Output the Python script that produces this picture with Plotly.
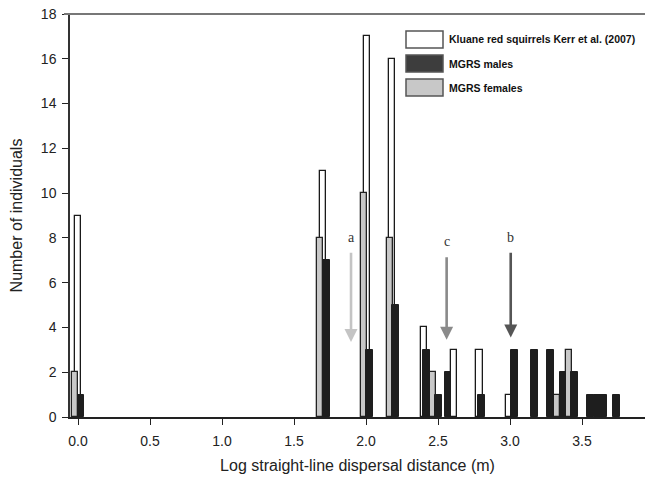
import plotly.graph_objects as go

# ---- data ----
kluane_x = [0.0, 1.703, 2.005, 2.183, 2.406, 2.610, 2.788, 2.995]
kluane_y = [9, 11, 17, 16, 4, 3, 3, 1]

females_x = [-0.023, 1.683, 1.984, 2.164, 2.464, 3.326, 3.408]
females_y = [2, 8, 10, 8, 2, 1, 3]

males_x = [0.022, 1.724, 2.026, 2.206, 2.421, 2.505, 2.569, 2.803, 3.030,
           3.171, 3.282, 3.368, 3.448, 3.561, 3.606, 3.651, 3.738]
males_y = [1, 7, 3, 5, 3, 1, 2, 1, 3, 3, 3, 2, 2, 1, 1, 1, 1]

arrow_labels = ["a", "c", "b"]
arrow_x = [1.896, 2.560, 3.005]
arrow_top = [7.4, 7.2, 7.4]
arrow_tip = [3.35, 3.45, 3.55]
arrow_colors = ["#c4c4c4", "#8a8a8a", "#555555"]

legend_names = ["Kluane red squirrels Kerr et al. (2007)", "MGRS males", "MGRS females"]
legend_fills = ["#ffffff", "#3d3d3d", "#c8c8c8"]

x_ticks = [0.0, 0.5, 1.0, 1.5, 2.0, 2.5, 3.0, 3.5]
y_ticks = list(range(0, 19, 2))

# ---- figure ----
W, H = 645, 477
ML, MR, MT, MB = 70, 0, 14, 60
BW = 0.042

fig = go.Figure()
fig.add_trace(go.Bar(x=kluane_x, y=kluane_y, width=BW, name=legend_names[0],
                     marker=dict(color="#ffffff", line=dict(color="#1a1a1a", width=1.3))))
fig.add_trace(go.Bar(x=females_x, y=females_y, width=BW, name=legend_names[2],
                     marker=dict(color="#c8c8c8", line=dict(color="#222222", width=1.3))))
fig.add_trace(go.Bar(x=males_x, y=males_y, width=BW + 0.004, name=legend_names[1],
                     marker=dict(color="#1e1e1e", line=dict(color="#1e1e1e", width=1.0))))

fnt = "Liberation Sans, Arial, sans-serif"

pw = W - ML - MR
ph = H - MT - MB


def px2paper_x(px):
    return (px - ML) / pw


def px2paper_y(py):
    return (H - MB - py) / ph


shapes = []
annotations = []

# top frame line
shapes.append(dict(type="line", xref="paper", yref="paper",
                   x0=px2paper_x(64), x1=1.0, y0=1.0, y1=1.0,
                   line=dict(color="#777777", width=2)))

# legend (manual)
sw_tops = [31, 55, 79]
for name, fill, top in zip(legend_names, legend_fills, sw_tops):
    shapes.append(dict(type="rect", xref="paper", yref="paper",
                       x0=px2paper_x(406), x1=px2paper_x(443),
                       y0=px2paper_y(top + 17), y1=px2paper_y(top),
                       fillcolor=fill, line=dict(color="#555555", width=1.5)))
    annotations.append(dict(xref="paper", yref="paper", x=px2paper_x(447),
                            y=px2paper_y(top + 8.5), text="<b>" + name + "</b>",
                            showarrow=False, xanchor="left", yanchor="middle",
                            font=dict(family=fnt, size=10.5, color="#111111")))

# arrows with letters
for lab, ax, at, tip, col in zip(arrow_labels, arrow_x, arrow_top, arrow_tip, arrow_colors):
    annotations.append(dict(x=ax, y=tip, ax=ax, ay=at, xref="x", yref="y",
                            axref="x", ayref="y", text="", showarrow=True,
                            arrowhead=2, arrowsize=1.0, arrowwidth=2.6,
                            arrowcolor=col))
    annotations.append(dict(x=ax, y=at + 0.2, xref="x", yref="y", text=lab,
                            showarrow=False, yanchor="bottom",
                            font=dict(family="Liberation Serif, Times New Roman, serif",
                                      size=14, color="#333333")))

fig.update_layout(
    width=W, height=H,
    margin=dict(l=ML, r=MR, t=MT, b=MB, autoexpand=False),
    paper_bgcolor="white", plot_bgcolor="white",
    barmode="overlay", bargap=0,
    showlegend=False,
    shapes=shapes, annotations=annotations,
    font=dict(family=fnt, color="#222222"),
)
fig.update_xaxes(range=[-0.0556, 3.9375], tickvals=x_ticks, tickformat=".1f",
                 ticks="outside", ticklen=6, tickwidth=1.2, tickcolor="#222222",
                 showline=True, linecolor="#222222", linewidth=1.5,
                 showgrid=False, zeroline=False, automargin=False,
                 ticklabelstandoff=4,
                 tickfont=dict(family=fnt, size=14, color="#222222"),
                 title=dict(text="Log straight-line dispersal distance (m)",
                            font=dict(family=fnt, size=16, color="#222222"), standoff=12))
fig.update_yaxes(range=[0, 18], tickvals=y_ticks,
                 ticks="outside", ticklen=6, tickwidth=1.2, tickcolor="#222222",
                 showline=True, linecolor="#333333", linewidth=1.5,
                 showgrid=False, zeroline=False, automargin=False,
                 ticklabelstandoff=3,
                 tickfont=dict(family=fnt, size=14, color="#222222"),
                 title=dict(text="Number of individuals",
                            font=dict(family=fnt, size=16, color="#222222"), standoff=14))

fig.write_html("out.html", config={"displayModeBar": False},
               post_script="document.body.style.margin='0';document.body.style.overflow='hidden';")
